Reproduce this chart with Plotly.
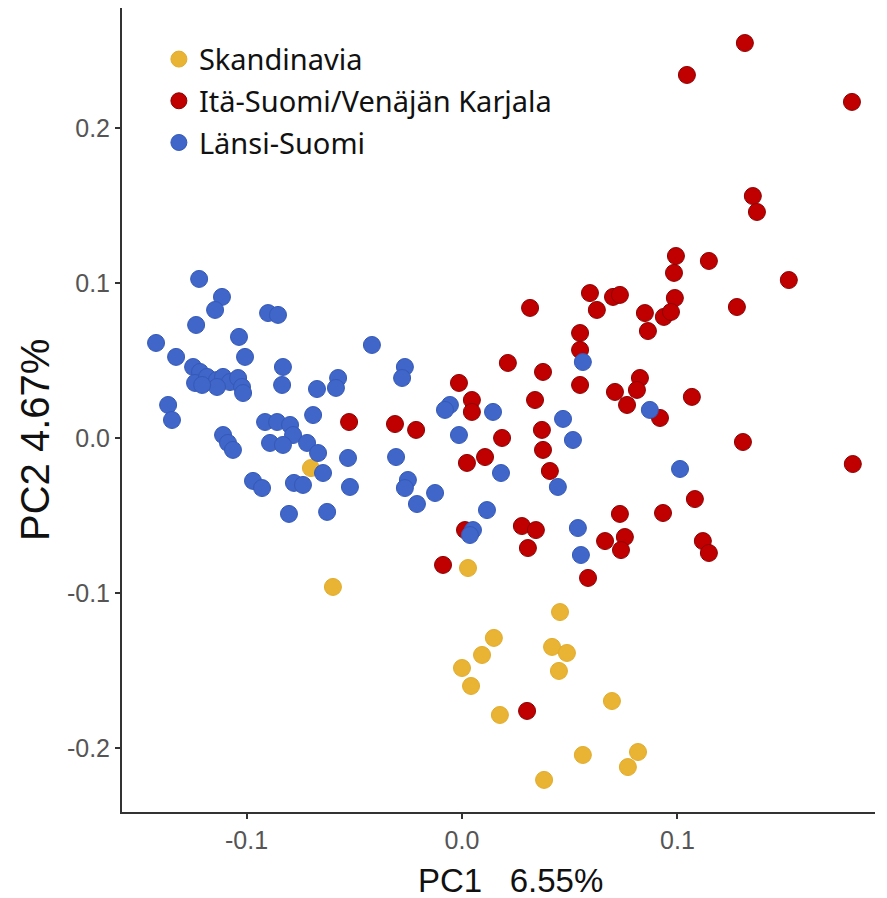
import plotly.graph_objects as go

# --- Data (PC1, PC2) ---
skand_x = [-0.0599, 0.0028, 0.0455, 0.0148, 0.0093, 0.0000, 0.0042, 0.0418, 0.0487,
           0.0450, 0.0176, 0.0696, 0.0561, 0.0817, 0.0770, 0.0381, -0.0701]
skand_y = [-0.0961, -0.0839, -0.1123, -0.1290, -0.1400, -0.1484, -0.1600, -0.1348, -0.1387,
           -0.1503, -0.1787, -0.1697, -0.2045, -0.2026, -0.2123, -0.2206, -0.0194]

ita_x = [0.1313, 0.1044, 0.1810, 0.1350, 0.1369, 0.0993, 0.1146, 0.0984, 0.1517, 0.0988,
         0.1276, 0.0849, 0.0937, 0.0970, 0.0863, 0.0594, 0.0626, 0.0701, 0.0733, 0.0316,
         0.0548, 0.0548, 0.0376, 0.0548, 0.0339, 0.0371, 0.0376, 0.0710, 0.0766, 0.0826,
         0.0812, 0.0919, 0.1067, 0.1304, 0.1814, 0.1081, 0.0733, 0.0933, 0.0664, 0.0756,
         0.0738, 0.1118, 0.1146, 0.0585, 0.0408, 0.0213, -0.0014, 0.0046, 0.0046, -0.0311,
         -0.0213, -0.0524, 0.0186, 0.0023, 0.0107, 0.0014, 0.0278, 0.0343, 0.0306, -0.0088,
         0.0302]
ita_y = [0.2548, 0.2342, 0.2168, 0.1561, 0.1458, 0.1174, 0.1142, 0.1065, 0.1019, 0.0903,
         0.0845, 0.0806, 0.0781, 0.0813, 0.0690, 0.0935, 0.0826, 0.0910, 0.0923, 0.0839,
         0.0677, 0.0568, 0.0426, 0.0342, 0.0245, 0.0052, -0.0077, 0.0297, 0.0213, 0.0387,
         0.0310, 0.0129, 0.0265, -0.0026, -0.0168, -0.0394, -0.0490, -0.0484, -0.0665, -0.0639,
         -0.0723, -0.0665, -0.0742, -0.0903, -0.0213, 0.0484, 0.0355, 0.0245, 0.0168, 0.0090,
         0.0052, 0.0103, 0.0000, -0.0161, -0.0123, -0.0594, -0.0568, -0.0594, -0.0710, -0.0819,
         -0.1761]

lansi_x = [-0.1220, -0.1114, -0.1146, -0.1234, -0.0900, -0.0854, -0.1420, -0.1035, -0.1327,
           -0.1007, -0.0831, -0.0835, -0.0673, -0.0575, -0.0585, -0.0418, -0.0691, -0.1364,
           -0.1346, -0.1248, -0.1216, -0.1239, -0.1183, -0.1137, -0.1109, -0.1077, -0.1039,
           -0.1021, -0.1016, -0.1137, -0.1206, -0.0914, -0.0858, -0.0798, -0.0784, -0.0891,
           -0.0831, -0.0719, -0.0668, -0.1109, -0.1086, -0.1063, -0.0645, -0.0529, -0.0520,
           -0.0970, -0.0928, -0.0780, -0.0738, -0.0803, -0.0626, -0.0265, -0.0278, -0.0056,
           -0.0079, 0.0144, -0.0014, -0.0306, -0.0251, -0.0265, -0.0125, -0.0209, 0.0116,
           0.0051, 0.0037, 0.0561, 0.0469, 0.0515, 0.0445, 0.0538, 0.0552, 0.0872, 0.1012,
           0.0181]
lansi_y = [0.1026, 0.0910, 0.0826, 0.0729, 0.0806, 0.0794, 0.0613, 0.0652, 0.0523,
           0.0523, 0.0458, 0.0342, 0.0316, 0.0387, 0.0323, 0.0600, 0.0148, 0.0213,
           0.0116, 0.0458, 0.0426, 0.0355, 0.0394, 0.0374, 0.0394, 0.0361, 0.0387,
           0.0329, 0.0290, 0.0329, 0.0342, 0.0103, 0.0103, 0.0084, 0.0019, -0.0032,
           -0.0045, -0.0032, -0.0097, 0.0019, -0.0032, -0.0077, -0.0226, -0.0129, -0.0316,
           -0.0277, -0.0323, -0.0290, -0.0303, -0.0490, -0.0477, 0.0458, 0.0387, 0.0213,
           0.0181, 0.0168, 0.0019, -0.0123, -0.0271, -0.0323, -0.0355, -0.0426, -0.0465,
           -0.0594, -0.0626, 0.0490, 0.0123, -0.0013, -0.0316, -0.0581, -0.0755, 0.0181, -0.0200,
           -0.0226]

names = ["Skandinavia", "Itä-Suomi/Venäjän Karjala", "Länsi-Suomi"]
colors = ["#E9B434", "#C00000", "#3F66C8"]
edges = ["#E2AC2C", "#8E0000", "#3559B8"]
x_title = "PC1\u00a0\u00a0\u00a06.55%"
y_title = "PC2 4.67%"

fig = go.Figure()
for nm, xs, ys, c, e in zip(names, [skand_x, ita_x, lansi_x], [skand_y, ita_y, lansi_y], colors, edges):
    fig.add_trace(go.Scatter(
        x=xs, y=ys, mode="markers", name=nm, legendgroup=nm,
        marker=dict(size=17, color=c, line=dict(color=e, width=1)),
    ))

tickfont = dict(family="Liberation Sans, Arial, sans-serif", size=25, color="#555555")
xtitlefont = dict(family="Liberation Sans, Arial, sans-serif", size=33, color="#111111")
ytitlefont = dict(family="Liberation Sans, Arial, sans-serif", size=40, color="#111111")

fig.update_layout(
    width=887, height=898,
    margin=dict(l=114, r=20, t=0, b=94),
    paper_bgcolor="white", plot_bgcolor="white",
    showlegend=True,
    legend=dict(
        x=0.049, y=0.968, xanchor="left", yanchor="top",
        font=dict(family="Noto Sans, sans-serif", size=29, color="#111111"),
        bgcolor="rgba(0,0,0,0)", tracegroupgap=1, itemwidth=30,
    ),
    xaxis=dict(
        range=[-0.1578, 0.1917], tickvals=[-0.1, 0.0, 0.1], ticktext=["-0.1", "0.0", "0.1"],
        showgrid=False, zeroline=False, showline=True, linecolor="#333333", linewidth=2,
        ticks="outside", ticklen=5, tickcolor="#333333", tickwidth=1.5, tickfont=tickfont,
    ),
    yaxis=dict(
        range=[-0.2413, 0.2774], tickvals=[-0.2, -0.1, 0.0, 0.1, 0.2],
        ticktext=["-0.2", "-0.1", "0.0", "0.1", "0.2"],
        showgrid=False, zeroline=False, showline=True, linecolor="#333333", linewidth=2,
        ticks="outside", ticklen=5, tickcolor="#333333", tickwidth=1.5, tickfont=tickfont,
    ),
    annotations=[
        dict(text=y_title, textangle=-90, showarrow=False,
             xref="paper", yref="paper", x=-0.1155, y=0.4627,
             xanchor="center", yanchor="middle", font=ytitlefont),
        dict(text=x_title, showarrow=False,
             xref="paper", yref="paper", x=0.5166, y=-0.0846,
             xanchor="center", yanchor="middle", font=xtitlefont),
    ],
)

fig.write_html("out.html")
